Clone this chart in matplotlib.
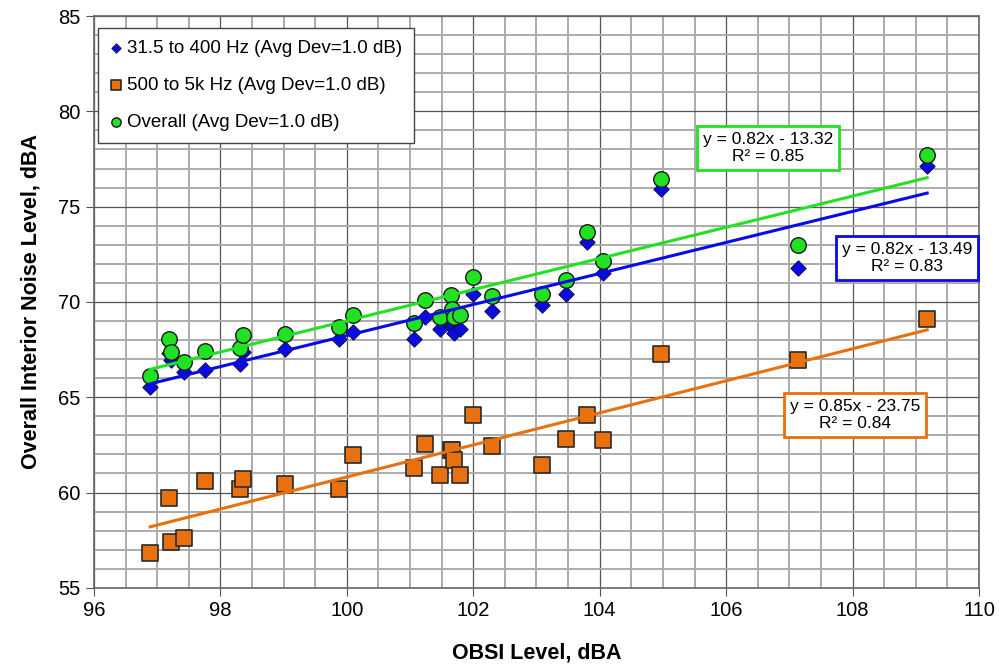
import numpy as np
import matplotlib
matplotlib.use("Agg")
import matplotlib.pyplot as plt
from matplotlib.ticker import MultipleLocator

plt.rcParams['font.family'] = ['Liberation Sans', 'DejaVu Sans']

# OBSI level for each measurement, dBA
obsi = [96.89, 97.19, 97.22, 97.42, 97.76, 98.31, 98.36, 99.02, 99.88, 100.10,
        101.06, 101.24, 101.47, 101.65, 101.66, 101.70, 101.79, 102.00, 102.30,
        103.08, 103.46, 103.80, 104.05, 104.97, 107.14, 109.18]

# interior noise, 31.5 to 400 Hz band sum
low_band = [65.56, 67.33, 66.96, 66.33, 66.43, 66.75, 67.38, 67.54, 68.06, 68.43,
            68.04, 69.23, 68.58, 68.74, 68.74, 68.36, 68.58, 70.40, 69.53,
            69.84, 70.42, 73.16, 71.54, 75.93, 71.77, 77.15]

# interior noise, 500 to 5k Hz band sum
high_band = [56.81, 59.69, 57.38, 57.59, 60.63, 60.21, 60.73, 60.47, 60.21, 61.99,
             61.31, 62.57, 60.94, 62.25, 62.25, 61.68, 60.94, 64.08, 62.46,
             61.47, 62.83, 64.08, 62.77, 67.28, 66.96, 69.11]

# overall interior noise
overall = [66.14, 68.06, 67.38, 66.85, 67.45, 67.59, 68.29, 68.32, 68.69, 69.32,
           68.90, 70.10, 69.23, 70.37, 69.62, 69.23, 69.32, 71.30, 70.33,
           70.42, 71.15, 73.65, 72.15, 76.45, 72.99, 77.71]

labels = ["31.5 to 400 Hz (Avg Dev=1.0 dB)",
          "500 to 5k Hz (Avg Dev=1.0 dB)",
          "Overall (Avg Dev=1.0 dB)"]
fit_text = ["y = 0.82x - 13.49\nR\u00b2 = 0.83",
            "y = 0.85x - 23.75\nR\u00b2 = 0.84",
            "y = 0.82x - 13.32\nR\u00b2 = 0.85"]

blue = '#0a0ae6'
orange = '#e8700e'
green = '#22e022'

fig = plt.figure(figsize=(9.99, 6.71), dpi=100)
ax = fig.add_axes([0.094, 0.124, 0.886, 0.852])

x = np.array(obsi)
ax.scatter(x, low_band, marker='D', s=60, color=blue, edgecolors='#101050',
           linewidths=0.8, zorder=3, label=labels[0])
ax.scatter(x, high_band, marker='s', s=125, color=orange, edgecolors='#2a2a2a',
           linewidths=1.2, zorder=3, label=labels[1])
ax.scatter(x, overall, marker='o', s=125, color=green, edgecolors='#1a1a1a',
           linewidths=1.0, zorder=4, label=labels[2])

# least-squares trend lines over the measured range
xs = np.array([x.min(), x.max()])
for ys, c in [(low_band, blue), (high_band, orange), (overall, green)]:
    k, b = np.polyfit(x, ys, 1)
    ax.plot(xs, k * xs + b, color=c, lw=2.2, zorder=5)

box = dict(boxstyle='square,pad=0.35', facecolor='white', linewidth=2)
ax.text(108.86, 72.3, fit_text[0], ha='center', va='center', fontsize=12.5,
        linespacing=1.2, bbox=dict(box, edgecolor=blue), zorder=6)
ax.text(108.04, 64.07, fit_text[1], ha='center', va='center', fontsize=12.5,
        linespacing=1.2, bbox=dict(box, edgecolor=orange), zorder=6)
ax.text(106.66, 78.08, fit_text[2], ha='center', va='center', fontsize=12.5,
        linespacing=1.2, bbox=dict(box, edgecolor=green), zorder=6)

ax.set_xlim(96, 110)
ax.set_ylim(55, 85)
ax.xaxis.set_major_locator(MultipleLocator(2))
ax.xaxis.set_minor_locator(MultipleLocator(0.5))
ax.yaxis.set_major_locator(MultipleLocator(5))
ax.yaxis.set_minor_locator(MultipleLocator(1))
ax.grid(which='minor', color='#ababab', lw=1.4, zorder=0)
ax.grid(which='major', color='#555555', lw=0.9, zorder=0)
ax.set_axisbelow(True)
ax.tick_params(which='major', direction='out', length=6, labelsize=14.5,
               color='#555555')
ax.tick_params(which='minor', length=0)
for s in ax.spines.values():
    s.set_color('#666666')
    s.set_linewidth(1.2)

ax.set_xlabel("OBSI Level, dBA", fontsize=15.5, fontweight='bold', labelpad=16)
ax.set_ylabel("Overall Interior Noise Level, dBA", fontsize=15.5,
              fontweight='bold', labelpad=12)

leg = ax.legend(loc='upper left', bbox_to_anchor=(-0.006, 0.996), fontsize=13.5,
                frameon=True, fancybox=False, edgecolor='#444444',
                labelspacing=1.05, handlelength=0.6, handletextpad=0.3,
                borderpad=0.65, markerscale=0.6, framealpha=1)
leg.get_frame().set_linewidth(1.0)

fig.savefig("out.png", dpi=100)
